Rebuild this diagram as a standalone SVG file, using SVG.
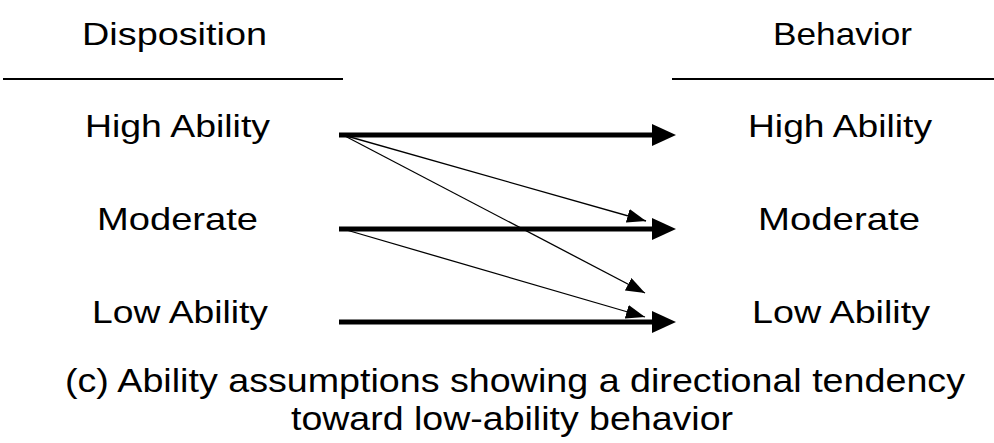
<svg xmlns="http://www.w3.org/2000/svg" width="994" height="443" viewBox="0 0 994 443">
<style>
text{font-family:"Liberation Sans",Arial,sans-serif;fill:#000}
.lbl{font-size:32px}
.cap{font-size:34px}
.rule{stroke:#000;stroke-width:2}
.thick{stroke:#000;stroke-width:5;fill:none}
.thin{stroke:#000;stroke-width:1.3;fill:none}
</style>
<defs>
<marker id="bigHead" markerUnits="userSpaceOnUse" markerWidth="24" markerHeight="24" viewBox="0 0 24 24" refX="2" refY="12" orient="auto">
<path d="M0,1 L24,12 L0,23 Z" fill="#000"/>
</marker>
<marker id="smallHead" markerUnits="userSpaceOnUse" markerWidth="19" markerHeight="14" viewBox="0 0 19 14" refX="19" refY="7" orient="auto">
<path d="M0,0 L19,7 L0,14 Z" fill="#000"/>
</marker>
</defs>
<g id="header-disposition">
<text class="lbl" x="82" y="45" textLength="185" lengthAdjust="spacingAndGlyphs">Disposition</text>
<line class="rule" x1="3" y1="79" x2="343" y2="79"/>
</g>
<g id="header-behavior">
<text class="lbl" x="773" y="45" textLength="139" lengthAdjust="spacingAndGlyphs">Behavior</text>
<line class="rule" x1="672" y1="79" x2="994" y2="79"/>
</g>
<g id="disp-high"><text class="lbl" x="85" y="137" textLength="185" lengthAdjust="spacingAndGlyphs">High Ability</text></g>
<g id="disp-moderate"><text class="lbl" x="97" y="230" textLength="161" lengthAdjust="spacingAndGlyphs">Moderate</text></g>
<g id="disp-low"><text class="lbl" x="92" y="323" textLength="176" lengthAdjust="spacingAndGlyphs">Low Ability</text></g>
<g id="beh-high"><text class="lbl" x="748" y="137" textLength="184" lengthAdjust="spacingAndGlyphs">High Ability</text></g>
<g id="beh-moderate"><text class="lbl" x="758" y="230" textLength="162" lengthAdjust="spacingAndGlyphs">Moderate</text></g>
<g id="beh-low"><text class="lbl" x="752" y="323" textLength="178" lengthAdjust="spacingAndGlyphs">Low Ability</text></g>
<g id="connectors">
<line class="thick" x1="339" y1="135" x2="654" y2="135" marker-end="url(#bigHead)"/>
<line class="thick" x1="339" y1="229" x2="654" y2="229" marker-end="url(#bigHead)"/>
<line class="thick" x1="339" y1="322" x2="654" y2="322" marker-end="url(#bigHead)"/>
<line class="thin" x1="343" y1="135" x2="646" y2="221" marker-end="url(#smallHead)"/>
<line class="thin" x1="343" y1="135" x2="645" y2="293" marker-end="url(#smallHead)"/>
<line class="thin" x1="343" y1="229" x2="645" y2="317" marker-end="url(#smallHead)"/>
</g>
<g id="caption">
<text class="cap" x="65" y="392" textLength="900" lengthAdjust="spacingAndGlyphs">(c) Ability assumptions showing a directional tendency</text>
<text class="cap" x="291" y="430" textLength="442" lengthAdjust="spacingAndGlyphs">toward low-ability behavior</text>
</g>
</svg>
